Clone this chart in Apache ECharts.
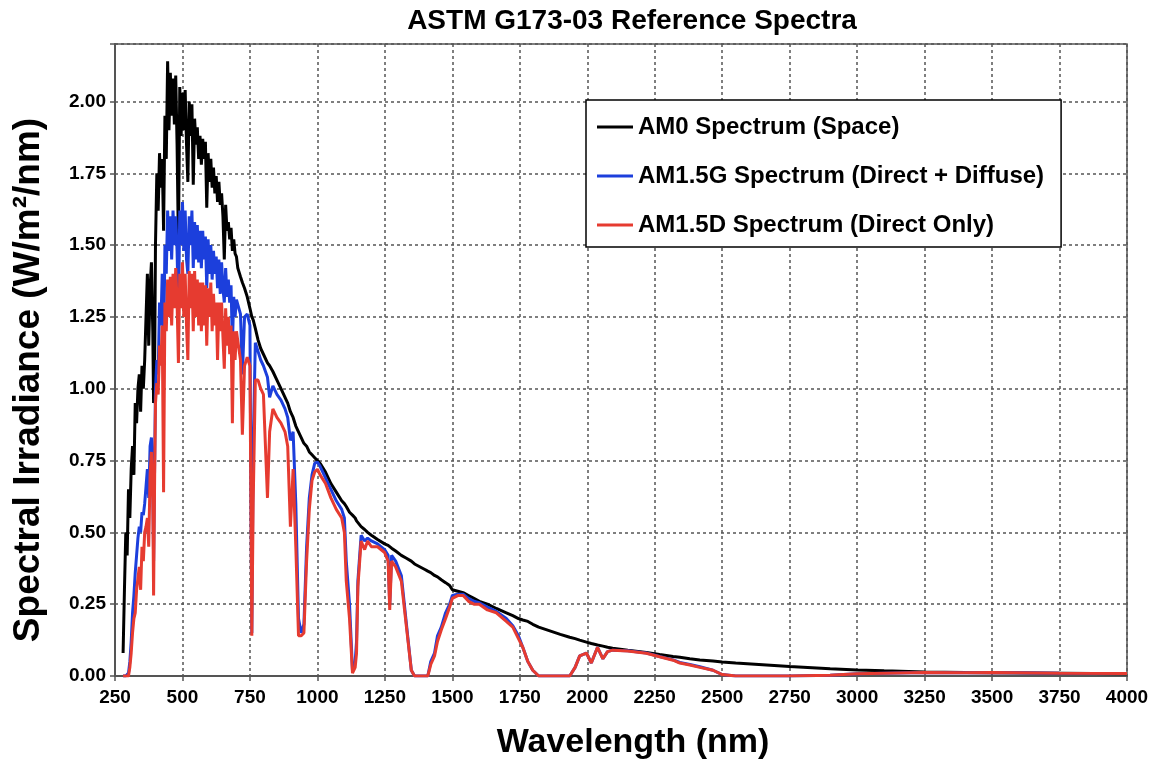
<!DOCTYPE html>
<html>
<head>
<meta charset="utf-8">
<script src="https://cdn.jsdelivr.net/npm/echarts@6/dist/echarts.min.js"></script>
<style>
html,body{margin:0;padding:0;background:#fff;}
#chart{width:1165px;height:763px;}
</style>
</head>
<body>
<div id="chart"></div>
<script>
// Wavelength grid (nm)
var wavelength = [
  280,285,290,295,300,305,310,315,320,325,330,335,340,345,350,355,360,365,370,375,380,385,390,393,397,
  400,405,410,415,420,425,430,435,440,445,450,455,460,465,470,475,480,485,490,495,500,505,510,515,520,525,530,535,540,545,550,555,560,565,570,575,580,585,590,595,600,605,610,615,620,625,630,635,640,645,650,655,660,665,670,675,680,685,690,695,700,
  705,715,722,730,740,750,757,762,770,780,790,800,815,823,835,850,865,880,890,900,910,920,930,940,950,960,970,980,990,1000,
  1010,1030,1050,1070,1090,1100,1107,1119,1130,1140,1145,1150,1162,1175,1186,1200,1223,1249,1262,1268,
  1275,1290,1311,1330,1348,1360,1400,1409,1420,1434,1445,1459,1475,1490,1500,1520,1540,1560,1580,1600,
  1630,1663,1700,1724,1745,1761,1780,1798,1820,1900,1935,1955,1972,1997,2015,2038,2058,2075,2094,2150,
  2219,2268,2318,2343,2380,2417,2466,2500,2550,2750,2900,3000,3100,3250,3400,3500,3750,4000
];
// AM0 spectrum (space), W/m2/nm
var am0 = [
  0.08,0.30,0.50,0.42,0.65,0.55,0.72,0.80,0.70,0.95,0.88,1.00,1.05,0.92,1.08,1.00,1.10,1.25,1.40,1.15,1.35,1.44,1.20,0.95,1.10,
  1.50,1.75,1.62,1.82,1.70,1.80,1.55,1.95,1.80,2.14,1.90,2.10,1.95,2.08,1.92,2.09,1.85,1.50,2.05,1.88,2.03,1.90,2.04,1.85,1.72,2.00,1.88,1.99,1.71,1.94,1.85,1.91,1.80,1.88,1.78,1.87,1.80,1.86,1.63,1.82,1.72,1.80,1.70,1.77,1.68,1.74,1.65,1.72,1.64,1.68,1.60,1.45,1.64,1.55,1.58,1.52,1.56,1.48,1.52,1.47,1.46,
  1.42,1.39,1.37,1.35,1.32,1.28,1.25,1.24,1.21,1.17,1.14,1.12,1.09,1.08,1.06,1.03,1.00,0.97,0.95,0.92,0.90,0.87,0.85,0.83,0.81,0.80,0.78,0.77,0.76,0.75,
  0.74,0.71,0.67,0.64,0.61,0.60,0.59,0.57,0.56,0.55,0.54,0.535,0.52,0.51,0.50,0.49,0.475,0.46,0.455,0.45,
  0.445,0.435,0.42,0.41,0.40,0.39,0.37,0.365,0.36,0.35,0.345,0.335,0.325,0.315,0.30,0.295,0.29,0.28,0.27,0.26,
  0.25,0.235,0.22,0.21,0.20,0.195,0.19,0.18,0.17,0.145,0.135,0.13,0.125,0.118,0.113,0.108,0.104,0.10,0.097,0.09,
  0.082,0.075,0.068,0.065,0.06,0.056,0.052,0.049,0.045,0.033,0.025,0.021,0.018,0.014,0.012,0.011,0.010,0.008
];
// AM1.5G spectrum (direct + diffuse)
var am15g = [
  0,0,0,0,0.01,0.05,0.12,0.22,0.28,0.36,0.42,0.48,0.52,0.50,0.57,0.56,0.60,0.66,0.72,0.62,0.80,0.83,0.70,0.40,0.75,
  1.00,1.10,1.05,1.30,1.22,1.40,1.10,1.50,1.40,1.62,1.48,1.60,1.45,1.62,1.50,1.60,1.48,1.25,1.62,1.50,1.65,1.48,1.62,1.45,1.40,1.60,1.50,1.62,1.42,1.58,1.45,1.57,1.44,1.55,1.42,1.55,1.45,1.53,1.35,1.52,1.40,1.50,1.38,1.48,1.40,1.46,1.35,1.45,1.33,1.44,1.35,1.30,1.42,1.32,1.38,1.30,1.36,1.15,1.32,1.25,1.31,
  1.31,1.26,1.05,1.25,1.26,1.22,0.15,0.80,1.16,1.13,1.10,1.08,1.04,0.97,1.01,0.98,0.96,0.93,0.90,0.82,0.85,0.60,0.20,0.15,0.18,0.45,0.62,0.70,0.74,0.745,
  0.73,0.69,0.65,0.61,0.58,0.55,0.40,0.25,0.02,0.05,0.12,0.33,0.49,0.47,0.48,0.47,0.46,0.44,0.42,0.25,
  0.42,0.40,0.35,0.18,0.02,0,0,0,0.05,0.08,0.14,0.17,0.22,0.25,0.28,0.285,0.285,0.27,0.26,0.255,
  0.24,0.225,0.20,0.175,0.14,0.10,0.05,0.02,0,0,0,0.03,0.07,0.08,0.045,0.10,0.06,0.085,0.09,0.088,
  0.08,0.068,0.056,0.047,0.04,0.032,0.02,0.005,0,0,0.003,0.008,0.010,0.012,0.011,0.012,0.010,0.009
];
// AM1.5D spectrum (direct only)
var am15d = [
  0,0,0,0,0,0.03,0.08,0.15,0.20,0.22,0.30,0.34,0.38,0.30,0.45,0.40,0.50,0.52,0.55,0.45,0.70,0.78,0.62,0.28,0.70,
  0.95,1.02,0.98,1.15,1.08,1.22,0.64,1.30,1.20,1.38,1.25,1.39,1.22,1.40,1.28,1.42,1.30,1.09,1.40,1.28,1.44,1.25,1.40,1.22,1.10,1.41,1.28,1.40,1.20,1.41,1.25,1.38,1.22,1.37,1.20,1.37,1.22,1.36,1.15,1.35,1.25,1.37,1.20,1.33,1.22,1.30,1.10,1.30,1.20,1.30,1.18,1.07,1.28,1.15,1.25,1.12,1.22,0.88,1.20,1.10,1.20,
  1.20,1.10,0.84,1.08,1.11,1.08,0.14,0.60,1.03,1.03,1.00,0.98,0.62,0.85,0.93,0.90,0.88,0.85,0.80,0.52,0.72,0.45,0.14,0.14,0.15,0.40,0.58,0.68,0.71,0.72,
  0.70,0.67,0.62,0.58,0.55,0.50,0.33,0.20,0.01,0.03,0.08,0.31,0.47,0.44,0.47,0.45,0.45,0.43,0.40,0.23,
  0.40,0.38,0.33,0.17,0.02,0,0,0,0.04,0.07,0.12,0.16,0.20,0.24,0.27,0.28,0.28,0.26,0.25,0.25,
  0.23,0.22,0.19,0.17,0.13,0.10,0.05,0.02,0,0,0,0.03,0.07,0.08,0.045,0.10,0.06,0.085,0.09,0.087,
  0.079,0.067,0.055,0.045,0.038,0.030,0.02,0.005,0,0,0.003,0.008,0.010,0.012,0.011,0.012,0.010,0.009
];

var seriesNames = ['AM0 Spectrum (Space)','AM1.5G Spectrum (Direct + Diffuse)','AM1.5D Spectrum (Direct Only)'];
var seriesColors = ['#000000','#1c3fdc','#e63b30'];
var seriesValues = [am0, am15g, am15d];

var FONT = '"Liberation Sans", Arial, Helvetica, sans-serif';

var chart = echarts.init(document.getElementById('chart'), null, {renderer:'canvas'});
var option = {
  animation: false,
  backgroundColor: '#ffffff',
  title: {
    text: 'ASTM G173-03 Reference Spectra',
    left: 627, top: 2, textAlign: 'center',
    textStyle: {fontFamily: FONT, fontWeight: 'bold', fontSize: 28, color: '#000'}
  },
  grid: {
    left: 115, right: 38, top: 44, bottom: 87,
    outerBoundsMode: 'none', containLabel: false,
    show: true, borderColor: '#555', borderWidth: 1.5, backgroundColor: '#fff'
  },
  legend: {
    orient: 'vertical', left: 586, top: 100,
    backgroundColor: '#fff', borderColor: '#000', borderWidth: 1.5,
    padding: [14, 17, 9, 11],
    icon: 'rect',
    itemWidth: 36, itemHeight: 3, itemGap: 23,
    textStyle: {fontFamily: FONT, fontWeight: 'bold', fontSize: 24, lineHeight: 26, color: '#000'},
    data: seriesNames
  },
  xAxis: {
    type: 'value', min: 250, max: 4000, interval: 250,
    name: 'Wavelength (nm)', nameLocation: 'middle', nameGap: 50,
    nameTextStyle: {fontFamily: FONT, fontWeight: 'bold', fontSize: 34, color: '#000', padding: [0,0,0,24]},
    axisLine: {show: true, onZero: false, lineStyle: {color: '#555', width: 2}},
    axisTick: {show: true, length: 5, lineStyle: {color: '#555', width: 1.5}},
    axisLabel: {fontFamily: FONT, fontWeight: 'bold', fontSize: 19, color: '#000', margin: 12,
      formatter: function(v){ return String(v); }},
    splitLine: {show: true, lineStyle: {color: '#555', width: 1.5, type: [3,3]}}
  },
  yAxis: {
    type: 'value', min: 0, max: 2.2, interval: 0.25,
    name: 'Spectral Irradiance (W/m²/nm)', nameLocation: 'middle', nameGap: 68, nameRotate: 90,
    nameTextStyle: {fontFamily: FONT, fontWeight: 'bold', fontSize: 37, color: '#000', padding: [0,40,0,0]},
    axisLine: {show: true, lineStyle: {color: '#555', width: 2}},
    axisTick: {show: true, length: 5, lineStyle: {color: '#555', width: 1.5}},
    axisLabel: {fontFamily: FONT, fontWeight: 'bold', fontSize: 19, color: '#000', margin: 9,
      formatter: function(v){ return v > 2.01 ? '' : v.toFixed(2); }},
    splitLine: {show: true, lineStyle: {color: '#555', width: 1.5, type: [3,3]}}
  },
  series: seriesNames.map(function(name, k){
    return {
      name: name, type: 'line', symbol: 'none', showSymbol: false,
      clip: true,
      lineStyle: {color: seriesColors[k], width: 3},
      itemStyle: {color: seriesColors[k]},
      z: 2 + k,
      data: wavelength.map(function(w, i){ return [w, seriesValues[k][i]]; })
    };
  })
};
chart.setOption(option);
</script>
</body>
</html>
